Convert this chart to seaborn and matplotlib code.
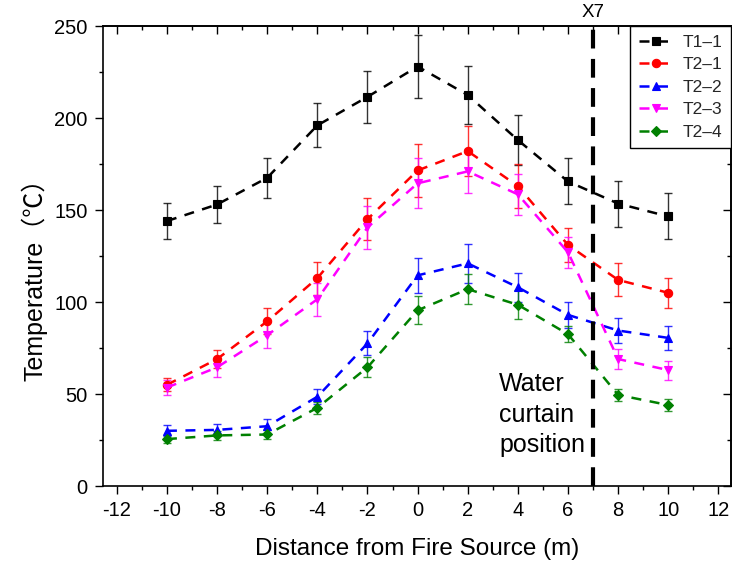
import numpy as np
import pandas as pd
import seaborn as sns
import matplotlib
matplotlib.use("Agg")
import matplotlib.pyplot as plt
from matplotlib.ticker import MultipleLocator

# Measured temperatures along the tunnel (mean and spread)
distance = [-10, -8, -6, -4, -2, 0, 2, 4, 6, 8, 10]

t1_1 = [144, 153, 167.5, 196, 211.5, 228, 212.5, 188, 165.5, 153.5, 146.5]
t1_1_err = [10, 10, 11, 12, 14, 17, 16, 13.5, 12.5, 12.5, 12.5]

t2_1 = [55, 69, 89.5, 113, 145, 171.5, 182, 163, 131, 112, 105]
t2_1_err = [3.5, 5, 7, 9, 11.5, 14.5, 13.5, 12, 9, 9, 8.3]

t2_2 = [30, 30.5, 32.5, 48.5, 77.5, 114.5, 121, 108, 93, 84.5, 80.5]
t2_2_err = [3, 3, 4, 4, 6.5, 9.5, 10.5, 8, 7, 7, 6.5]

t2_3 = [53.5, 64.5, 82, 101.5, 140.5, 164.5, 171, 158.5, 127, 69, 63]
t2_3_err = [4, 5, 7, 9, 11.5, 13.5, 12, 11, 8.5, 5.5, 5.2]

t2_4 = [25.5, 27.5, 28, 42.5, 64.5, 95.5, 107, 98.5, 82.5, 49.5, 44]
t2_4_err = [2, 2.5, 2.5, 3.3, 5.5, 7.5, 8.2, 8, 4.4, 3.3, 3.2]

series_names = ["T1\u20131", "T2\u20131", "T2\u20132", "T2\u20133", "T2\u20134"]
series_values = [t1_1, t2_1, t2_2, t2_3, t2_4]
series_errors = [t1_1_err, t2_1_err, t2_2_err, t2_3_err, t2_4_err]
series_colors = ["#000000", "#FF0000", "#0000FF", "#FF00FF", "#008000"]
series_markers = ["s", "o", "^", "v", "D"]

curtain_x = 7
x_ticks = list(range(-12, 13, 2))
y_ticks = [0, 50, 100, 150, 200, 250]

sns.set_theme(style="white")
plt.rcParams["font.family"] = ["Liberation Sans", "Noto Sans CJK SC", "DejaVu Sans"]

fig = plt.figure(figsize=(7.32, 5.62), dpi=100)
ax = fig.add_axes([0.1407, 0.1352, 0.8579, 0.8185])

for name, vals, errs, col, mk in zip(series_names, series_values, series_errors,
                                      series_colors, series_markers):
    df = pd.DataFrame({"distance": distance, "temperature": vals})
    ax.errorbar(df["distance"], df["temperature"], yerr=errs, fmt="none",
                ecolor=col, elinewidth=1.0, capsize=2.8, capthick=1.0,
                alpha=0.8, zorder=2)
    sns.lineplot(data=df, x="distance", y="temperature", ax=ax, label=name,
                 color=col, marker=mk, markersize=6 if mk != "D" else 5,
                 markeredgecolor=col, markeredgewidth=0.8,
                 linestyle=(0, (4, 3.4)), linewidth=1.8, zorder=3)

# Water curtain position
ax.axvline(curtain_x, color="black", linewidth=3, linestyle=(0, (4.5, 2.5)), zorder=4)
ax.text(curtain_x, 253, "X7", ha="center", va="bottom", fontsize=13.5, color="black")
ax.text(3.25, 62, "Water\ncurtain\nposition", ha="left", va="top",
        fontsize=18, linespacing=1.35, color="black")

ax.set_xlim(-12.55, 12.5)
ax.set_ylim(0, 250)
ax.set_xticks(x_ticks)
ax.set_xticklabels([str(t) for t in x_ticks])
ax.set_yticks(y_ticks)
ax.xaxis.set_minor_locator(MultipleLocator(1))
ax.yaxis.set_minor_locator(MultipleLocator(25))
ax.tick_params(axis="both", which="major", direction="out", length=6, width=1.0,
               labelsize=14.5, color="black", labelcolor="black", pad=5)
ax.tick_params(axis="both", which="minor", direction="out", length=3, width=1.0,
               color="black")
ax.tick_params(bottom=True, left=True, top=False, right=False, which="both")

# Mirrored inward ticks on top and right
top = ax.secondary_xaxis("top")
top.set_xticks(x_ticks)
top.xaxis.set_minor_locator(MultipleLocator(1))
top.tick_params(which="major", direction="in", length=6, width=1.0, labeltop=False, color="black")
top.tick_params(which="minor", direction="in", length=3, width=1.0, color="black")
right = ax.secondary_yaxis("right")
right.set_yticks(y_ticks)
right.yaxis.set_minor_locator(MultipleLocator(25))
right.tick_params(which="major", direction="in", length=6, width=1.0, labelright=False, color="black")
right.tick_params(which="minor", direction="in", length=3, width=1.0, color="black")
for sec in (top, right):
    for sp in sec.spines.values():
        sp.set_linewidth(1.2)
        sp.set_color("black")

for sp in ax.spines.values():
    sp.set_linewidth(1.2)
    sp.set_color("black")
    sp.set_visible(True)

ax.set_xlabel("Distance from Fire Source (m)", fontsize=17.5, labelpad=13, color="black")
ax.set_ylabel("Temperature\uff08\u2103\uff09", fontsize=18, color="black")
ax.yaxis.set_label_coords(-0.088, 0.462)

leg = ax.legend(loc="upper right", borderaxespad=0, fontsize=12.5, frameon=True,
                fancybox=False, framealpha=1, edgecolor="black",
                handlelength=2.0, handletextpad=0.5, labelspacing=0.42,
                borderpad=0.5)
leg.get_frame().set_linewidth(1.0)
leg.set_zorder(10)

fig.savefig("out.png", dpi=100)
